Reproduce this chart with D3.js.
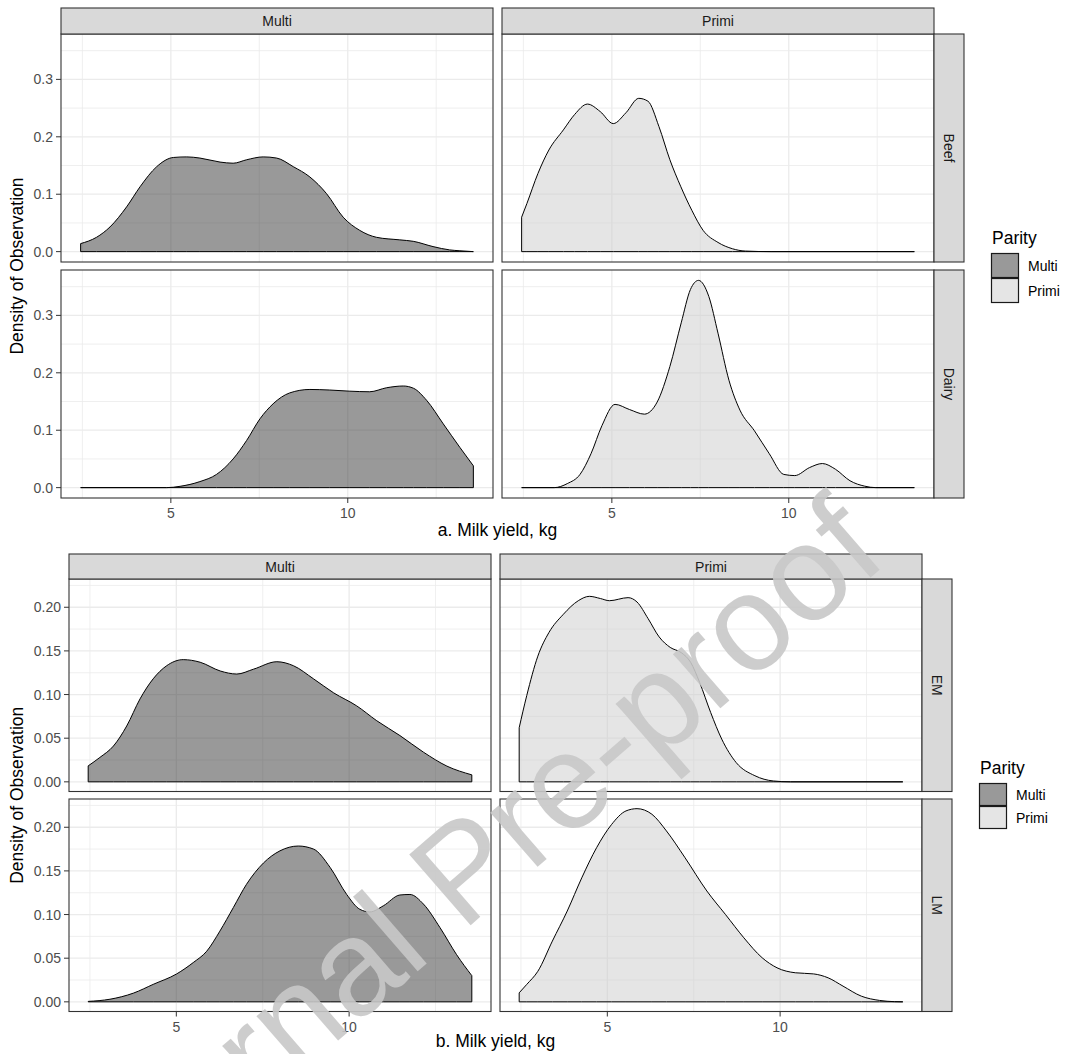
<!DOCTYPE html>
<html>
<head>
<meta charset="utf-8">
<script src="https://cdn.jsdelivr.net/npm/d3@7/dist/d3.min.js"></script>
<style>
  body { margin: 0; background: #ffffff; }
  svg text { font-family: "Liberation Sans", Arial, sans-serif; }
</style>
</head>
<body>
<svg id="chart" width="1067" height="1054"></svg>
<script>

/////
//
// Data
//
/////

var parity = ["Multi", "Primi"];
var parityFill = ["#333333", "#cccccc"];   // scale_fill_grey, drawn at alpha .5
var rowsA = ["Beef", "Dairy"];
var rowsB = ["EM", "LM"];
var xBreaks = [5, 10];
var xMinor = [2.5, 7.5, 12.5];
var yBreaksA = [0, 0.1, 0.2, 0.3];
var yMinorA = [0.05, 0.15, 0.25, 0.35];
var yBreaksB = [0, 0.05, 0.10, 0.15, 0.20];
var yMinorB = [0.025, 0.075, 0.125, 0.175, 0.225];

// [milk yield (kg), density]
var beefMulti = [[2.45,0.014],[2.9,0.025],[3.28,0.043],[3.75,0.078],[4.13,0.113],[4.6,0.148],
  [5.07,0.164],[5.45,0.165],[5.82,0.163],[6.39,0.156],[6.76,0.154],[7.14,0.160],[7.61,0.165],
  [7.99,0.163],[8.46,0.148],[8.93,0.130],[9.4,0.101],[9.87,0.060],[10.34,0.037],[10.81,0.025],
  [11.47,0.0205],[11.85,0.018],[12.41,0.0088],[12.88,0.003],[13.17,0.0015],[13.55,0]];

var beefPrimi = [[2.45,0.060],[2.6,0.084],[2.91,0.136],[3.22,0.177],[3.63,0.212],[3.95,0.239],
  [4.31,0.257],[4.67,0.244],[5.04,0.223],[5.4,0.242],[5.76,0.267],[6.02,0.262],[6.33,0.218],
  [6.64,0.160],[6.95,0.113],[7.26,0.072],[7.58,0.037],[8.0,0.016],[8.41,0.005],[8.77,0.001],
  [9.5,0],[13.55,0]];

var dairyMulti = [[2.45,0],[4.88,0],[5.26,0.0023],[5.82,0.0105],[6.29,0.023],[6.76,0.050],
  [7.14,0.082],[7.52,0.120],[7.89,0.146],[8.36,0.165],[8.93,0.171],[9.49,0.170],[10.06,0.168],
  [10.62,0.167],[11.1,0.174],[11.57,0.177],[11.86,0.173],[12.23,0.152],[12.7,0.111],
  [13.17,0.070],[13.55,0.038]];

var dairyPrimi = [[2.45,0],[3.37,0],[3.74,0.007],[4.1,0.023],[4.41,0.059],[4.72,0.108],
  [5.09,0.145],[5.5,0.136],[5.92,0.128],[6.28,0.149],[6.64,0.211],[6.96,0.287],[7.22,0.345],
  [7.45,0.361],[7.74,0.333],[8.0,0.269],[8.31,0.187],[8.62,0.135],[9.03,0.099],[9.45,0.059],
  [9.86,0.023],[10.17,0.021],[10.59,0.035],[10.95,0.042],[11.32,0.032],[11.73,0.012],
  [12.15,0.0025],[12.46,0],[13.55,0]];

var emMulti = [[2.45,0.0183],[2.79,0.028],[3.18,0.041],[3.565,0.064],[3.95,0.095],[4.33,0.118],
  [4.72,0.133],[5.2,0.140],[5.69,0.137],[6.27,0.127],[6.75,0.1235],[7.23,0.129],[7.91,0.1376],
  [8.39,0.133],[8.97,0.118],[9.55,0.102],[10.22,0.087],[10.8,0.070],[11.47,0.053],[12.15,0.034],
  [12.83,0.018],[13.55,0.008]];

var emPrimi = [[2.45,0.062],[2.67,0.099],[2.99,0.144],[3.31,0.171],[3.73,0.192],[4.16,0.2075],
  [4.48,0.2125],[4.8,0.210],[5.06,0.2075],[5.6,0.211],[5.86,0.206],[6.18,0.187],[6.5,0.166],
  [6.82,0.154],[7.14,0.148],[7.41,0.137],[7.67,0.114],[7.99,0.0795],[8.31,0.049],[8.73,0.022],
  [9.27,0.007],[9.8,0.001],[10.3,0],[13.55,0]];

var lmMulti = [[2.45,0.0005],[3.08,0.003],[3.76,0.010],[4.33,0.020],[5.01,0.032],[5.49,0.045],
  [5.88,0.058],[6.26,0.081],[6.65,0.108],[7.03,0.1346],[7.52,0.159],[8.0,0.173],[8.53,0.1785],
  [8.97,0.175],[9.45,0.154],[9.93,0.123],[10.31,0.106],[10.6,0.103],[10.99,0.110],[11.47,0.1224],
  [11.76,0.123],[12.15,0.112],[12.63,0.085],[13.11,0.054],[13.55,0.030]];

var lmPrimi = [[2.45,0.0103],[2.67,0.020],[2.99,0.035],[3.41,0.0696],[3.84,0.104],[4.26,0.142],
  [4.69,0.1766],[5.12,0.203],[5.54,0.2187],[5.86,0.2213],[6.29,0.2149],[6.71,0.1958],[7.25,0.165],
  [7.88,0.127],[8.42,0.100],[8.95,0.0734],[9.48,0.0505],[9.91,0.039],[10.44,0.0333],[10.97,0.032],
  [11.39,0.0275],[11.82,0.018],[12.35,0.0065],[12.88,0.0016],[13.31,0.0002],[13.55,0]];


/////
//
// Drawing
//
/////

var svg = d3.select("#chart");

var tickCol = "#333333",
    labCol = "#4d4d4d",
    gridCol = "#ebebeb",
    borderCol = "#333333",
    stripFill = "#d9d9d9";

// ggplot style 5% expansion of a continuous range
function expand(ext) {
  var pad = (ext[1] - ext[0]) * 0.05;
  return [ext[0] - pad, ext[1] + pad];
}

// Draw one facet_grid figure (2 rows x 2 columns) with its legend
function facetFigure(cfg) {

  var g = svg.append("g");

  var allX = [], maxY = 0;
  cfg.curves.forEach(function(row) {
    row.forEach(function(c) {
      c.forEach(function(p) { allX.push(p[0]); if (p[1] > maxY) maxY = p[1]; });
    });
  });
  var xDomain = expand(d3.extent(allX)),
      yDomain = expand([0, maxY]);

  var nCol = 2, nRow = 2;
  var panelRight = cfg.left + nCol * cfg.colW + (nCol - 1) * cfg.colGap;

  for (var r = 0; r < nRow; r++) {
    var top = cfg.panelTop + r * (cfg.rowH + cfg.rowGap),
        bottom = top + cfg.rowH;

    var y = d3.scaleLinear().domain(yDomain).range([bottom, top]);

    for (var c = 0; c < nCol; c++) {
      var left = cfg.left + c * (cfg.colW + cfg.colGap),
          right = left + cfg.colW;

      var x = d3.scaleLinear().domain(xDomain).range([left, right]);

      var p = g.append("g");

      // white panel
      p.append("rect")
          .attr("x", left).attr("y", top)
          .attr("width", cfg.colW).attr("height", cfg.rowH)
          .attr("fill", "#fff");

      // minor then major grid lines
      p.selectAll(".gxm").data(xMinor).enter().append("line")
          .attr("x1", function(d) { return x(d); }).attr("x2", function(d) { return x(d); })
          .attr("y1", top).attr("y2", bottom)
          .attr("stroke", gridCol).attr("stroke-width", 0.8);
      p.selectAll(".gym").data(cfg.yMinor).enter().append("line")
          .attr("x1", left).attr("x2", right)
          .attr("y1", function(d) { return y(d); }).attr("y2", function(d) { return y(d); })
          .attr("stroke", gridCol).attr("stroke-width", 0.8);
      p.selectAll(".gx").data(xBreaks).enter().append("line")
          .attr("x1", function(d) { return x(d); }).attr("x2", function(d) { return x(d); })
          .attr("y1", top).attr("y2", bottom)
          .attr("stroke", gridCol).attr("stroke-width", 1.3);
      p.selectAll(".gy").data(cfg.yBreaks).enter().append("line")
          .attr("x1", left).attr("x2", right)
          .attr("y1", function(d) { return y(d); }).attr("y2", function(d) { return y(d); })
          .attr("stroke", gridCol).attr("stroke-width", 1.3);

      // density polygon, outlined all round like old geom_density
      var area = d3.area()
          .x(function(d) { return x(d[0]); })
          .y0(y(0))
          .y1(function(d) { return y(d[1]); })
          .curve(d3.curveMonotoneX);

      p.append("path")
          .datum(cfg.curves[r][c])
          .attr("d", area)
          .attr("fill", parityFill[c])
          .attr("fill-opacity", 0.5)
          .attr("stroke", "#000")
          .attr("stroke-width", 1)
          .attr("stroke-linejoin", "round");

      // panel border
      p.append("rect")
          .attr("x", left).attr("y", top)
          .attr("width", cfg.colW).attr("height", cfg.rowH)
          .attr("fill", "none").attr("stroke", borderCol).attr("stroke-width", 1.1);

      // column strip on the first row
      if (r === 0) {
        p.append("rect")
            .attr("x", left).attr("y", cfg.stripTop)
            .attr("width", cfg.colW).attr("height", cfg.panelTop - cfg.stripTop)
            .attr("fill", stripFill).attr("stroke", borderCol).attr("stroke-width", 1.1);
        p.append("text")
            .attr("x", (left + right) / 2)
            .attr("y", (cfg.stripTop + cfg.panelTop) / 2 + 5)
            .attr("text-anchor", "middle")
            .attr("font-size", "14px")
            .attr("fill", "#1a1a1a")
            .text(parity[c]);
      }

      // y axis on first column
      if (c === 0) {
        var ya = p.append("g");
        ya.selectAll("line").data(cfg.yBreaks).enter().append("line")
            .attr("x1", left - 5).attr("x2", left)
            .attr("y1", function(d) { return y(d); }).attr("y2", function(d) { return y(d); })
            .attr("stroke", tickCol).attr("stroke-width", 1);
        ya.selectAll("text").data(cfg.yBreaks).enter().append("text")
            .attr("x", left - 8)
            .attr("y", function(d) { return y(d) + 5; })
            .attr("text-anchor", "end")
            .attr("font-size", "14px")
            .attr("fill", labCol)
            .text(cfg.yFmt);
      }

      // x axis on last row
      if (r === nRow - 1) {
        var xa = p.append("g");
        xa.selectAll("line").data(xBreaks).enter().append("line")
            .attr("x1", function(d) { return x(d); }).attr("x2", function(d) { return x(d); })
            .attr("y1", bottom).attr("y2", bottom + 5)
            .attr("stroke", tickCol).attr("stroke-width", 1);
        xa.selectAll("text").data(xBreaks).enter().append("text")
            .attr("x", function(d) { return x(d); })
            .attr("y", bottom + 20)
            .attr("text-anchor", "middle")
            .attr("font-size", "14px")
            .attr("fill", labCol)
            .text(function(d) { return d; });
      }
    }

    // row strip on the right
    g.append("rect")
        .attr("x", panelRight).attr("y", top)
        .attr("width", cfg.stripW).attr("height", cfg.rowH)
        .attr("fill", stripFill).attr("stroke", borderCol).attr("stroke-width", 1.1);
    g.append("text")
        .attr("transform", "translate(" + (panelRight + cfg.stripW / 2 - 5) + "," + ((top + bottom) / 2) + ") rotate(90)")
        .attr("text-anchor", "middle")
        .attr("font-size", "14px")
        .attr("fill", "#1a1a1a")
        .text(cfg.rows[r]);
  }

  var plotTop = cfg.panelTop,
      plotBottom = cfg.panelTop + nRow * cfg.rowH + (nRow - 1) * cfg.rowGap;

  // axis titles
  g.append("text")
      .attr("x", (cfg.left + panelRight) / 2)
      .attr("y", cfg.xTitleY)
      .attr("text-anchor", "middle")
      .attr("font-size", "17.5px")
      .attr("fill", "#000")
      .text(cfg.xTitle);

  g.append("text")
      .attr("transform", "translate(22.5," + ((plotTop + plotBottom) / 2) + ") rotate(-90)")
      .attr("text-anchor", "middle")
      .attr("font-size", "17.5px")
      .attr("fill", "#000")
      .text("Density of Observation");

  // legend
  var lx = panelRight + cfg.stripW + 27,
      ly = cfg.legendTop;
  var leg = g.append("g");
  leg.append("text")
      .attr("x", lx + 1).attr("y", ly)
      .attr("font-size", "17.5px")
      .attr("fill", "#000")
      .text("Parity");
  var key = leg.selectAll(".key").data(parity).enter().append("g")
      .attr("transform", function(d, i) { return "translate(" + lx + "," + (ly + 9 + i * cfg.keyH) + ")"; });
  key.append("rect")
      .attr("width", 28).attr("height", cfg.keyH)
      .attr("fill", "#fff");
  key.append("rect")
      .attr("x", 0.5).attr("y", 0.5)
      .attr("width", 27).attr("height", cfg.keyH - 1)
      .attr("fill", function(d, i) { return parityFill[i]; })
      .attr("fill-opacity", 0.5)
      .attr("stroke", "#1a1a1a").attr("stroke-width", 1.2);
  key.append("text")
      .attr("x", 37).attr("y", cfg.keyH / 2 + 5)
      .attr("font-size", "14px")
      .attr("fill", "#000")
      .text(function(d) { return d; });
}

// a. Milk yield by breed type
facetFigure({
  left: 61, colW: 432, colGap: 9, stripW: 30,
  stripTop: 8, panelTop: 34, rowH: 228, rowGap: 8,
  rows: rowsA,
  curves: [[beefMulti, beefPrimi], [dairyMulti, dairyPrimi]],
  yBreaks: yBreaksA, yMinor: yMinorA, yFmt: d3.format(".1f"),
  xTitle: "a. Milk yield, kg", xTitleY: 536,
  legendTop: 244, keyH: 25
});

// b. Milk yield by lactation stage
facetFigure({
  left: 69, colW: 422, colGap: 9, stripW: 30,
  stripTop: 554, panelTop: 579, rowH: 212.5, rowGap: 7.5,
  rows: rowsB,
  curves: [[emMulti, emPrimi], [lmMulti, lmPrimi]],
  yBreaks: yBreaksB, yMinor: yMinorB, yFmt: d3.format(".2f"),
  xTitle: "b. Milk yield, kg", xTitleY: 1047,
  legendTop: 774, keyH: 23
});

// "Journal Pre-proof" watermark laid over the figure
svg.append("text")
    .attr("transform", "translate(97,1250) rotate(-41)")
    .attr("font-size", "136px")
    .attr("fill", "#c8c8c8")
    .attr("fill-opacity", 0.9)
    .text("Journal Pre-proof");

</script>
</body>
</html>
